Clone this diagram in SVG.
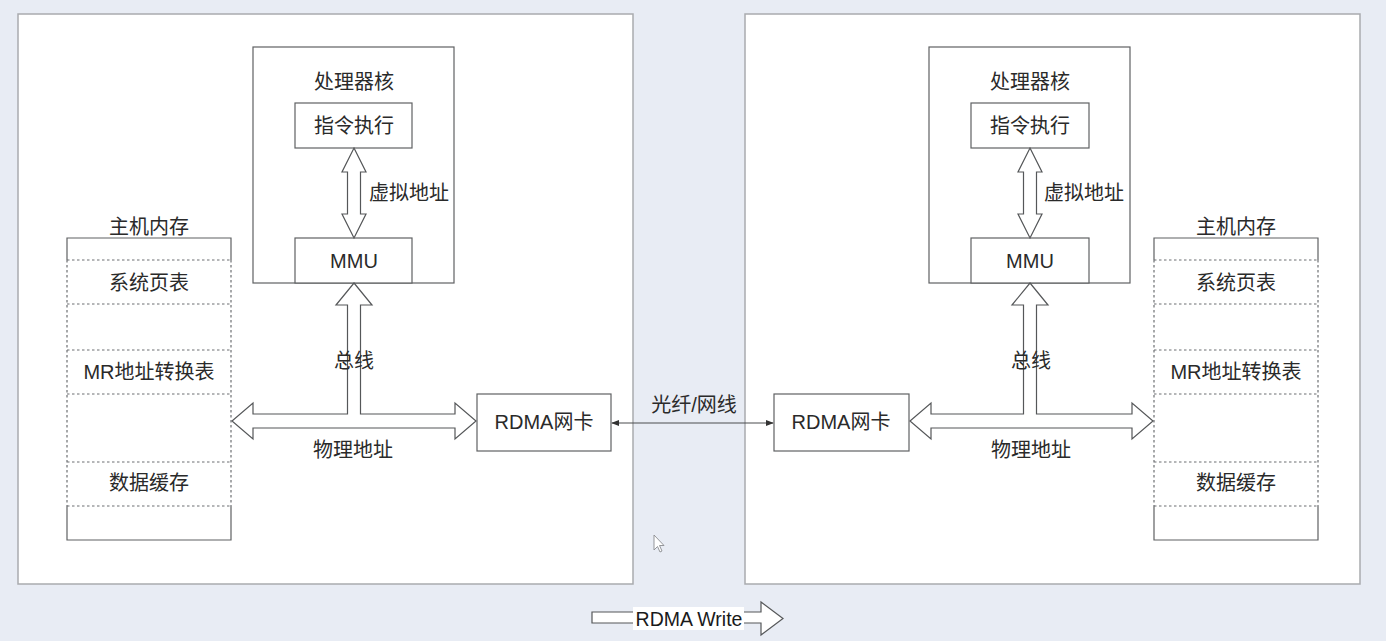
<svg xmlns="http://www.w3.org/2000/svg" width="1386" height="641" viewBox="0 0 1386 641">
  <defs>
    <style>
      .panel { fill: #ffffff; stroke: #a9abae; stroke-width: 1.5; }
      .box { fill: #ffffff; stroke: #5f6163; stroke-width: 1.2; }
      .solid { fill: none; stroke: #5f6163; stroke-width: 1.2; }
      .dash { fill: none; stroke: #6d6f72; stroke-width: 1.2; stroke-dasharray: 2.5 2.5; }
      .hollow { fill: #ffffff; stroke: #555759; stroke-width: 1.2; stroke-linejoin: miter; }
      .wire { fill: none; stroke: #4a4c4e; stroke-width: 1.2; }
      text { font-family: "Liberation Sans", "Noto Sans CJK SC", sans-serif; font-size: 20px; fill: #2a2a2a; text-anchor: middle; dominant-baseline: central; }
      .legend { font-size: 19.5px; fill: #1a1a1a; }
    </style>
    <marker id="tip" viewBox="0 0 10 10" refX="9" refY="5" markerWidth="8" markerHeight="8" orient="auto-start-reverse" markerUnits="userSpaceOnUse">
      <path d="M0,1 L10,5 L0,9 Z" fill="#333"/>
    </marker>
  </defs>

  <rect width="1386" height="641" fill="#e8ecf4"/>

  <!-- host A -->
  <g id="hostA">
    <rect class="panel" x="18" y="14" width="615" height="570"/>
  </g>
  <g id="cpuA">
    <rect class="box" x="253" y="47" width="201" height="236"/>
    <text x="354" y="82">处理器核</text>
  </g>
  <g id="execA">
    <rect class="box" x="295" y="103" width="117" height="45"/>
    <text x="354" y="126">指令执行</text>
  </g>
  <g id="mmuA">
    <rect class="box" x="295" y="238" width="117" height="45"/>
    <text x="354" y="261">MMU</text>
  </g>
  <g id="memA">
    <text x="149" y="227">主机内存</text>
    <rect x="67" y="238" width="164" height="302" fill="#ffffff"/>
    <path class="solid" d="M67,260 V238 H231 V260 M67,506 V540 H231 V506"/>
    <path class="dash" d="M67,260 V506 M231,260 V506 M67,260 H231 M67,304 H231 M67,350 H231 M67,394 H231 M67,462 H231 M67,506 H231"/>
    <text x="149" y="283">系统页表</text>
    <text x="149" y="372">MR地址转换表</text>
    <text x="149" y="483">数据缓存</text>
  </g>
  <g id="nicA">
    <rect class="box" x="477" y="394" width="134" height="57"/>
    <text x="544" y="422">RDMA网卡</text>
  </g>

  <!-- host B -->
  <g id="hostB">
    <rect class="panel" x="745" y="14" width="615" height="570"/>
  </g>
  <g id="cpuB">
    <rect class="box" x="929" y="47" width="201" height="236"/>
    <text x="1030" y="82">处理器核</text>
  </g>
  <g id="execB">
    <rect class="box" x="971" y="103" width="118" height="45"/>
    <text x="1030" y="126">指令执行</text>
  </g>
  <g id="mmuB">
    <rect class="box" x="971" y="238" width="118" height="45"/>
    <text x="1030" y="261">MMU</text>
  </g>
  <g id="memB">
    <text x="1236" y="227">主机内存</text>
    <rect x="1154" y="238" width="164" height="302" fill="#ffffff"/>
    <path class="solid" d="M1154,260 V238 H1318 V260 M1154,506 V540 H1318 V506"/>
    <path class="dash" d="M1154,260 V506 M1318,260 V506 M1154,260 H1318 M1154,304 H1318 M1154,350 H1318 M1154,394 H1318 M1154,462 H1318 M1154,506 H1318"/>
    <text x="1236" y="283">系统页表</text>
    <text x="1236" y="372">MR地址转换表</text>
    <text x="1236" y="483">数据缓存</text>
  </g>
  <g id="nicB">
    <rect class="box" x="774" y="394" width="135" height="57"/>
    <text x="841" y="422">RDMA网卡</text>
  </g>

  <!-- connectors -->
  <g id="connectors">
    <!-- virtual address paths -->
    <polygon class="hollow" points="354,148 366,172 360.5,172 360.5,214 366,214 354,238 342,214 347.5,214 347.5,172 342,172"/>
    <polygon class="hollow" points="1030,148 1042,172 1036.5,172 1036.5,214 1042,214 1030,238 1018,214 1023.5,214 1023.5,172 1018,172"/>
    <!-- system bus / physical address paths -->
    <polygon class="hollow" points="354,283 372,305 360.5,305 360.5,414 455,414 455,403 476,421 455,439 455,428 253,428 253,439 232,421 253,403 253,414 347.5,414 347.5,305 336,305"/>
    <polygon class="hollow" points="1030,283 1048,305 1036.5,305 1036.5,414 1132,414 1132,403 1153,421 1132,439 1132,428 931,428 931,439 910,421 931,403 931,414 1023.5,414 1023.5,305 1012,305"/>
    <!-- link between the two NICs -->
    <line class="wire" x1="612" y1="423" x2="773" y2="423" marker-start="url(#tip)" marker-end="url(#tip)"/>
  </g>

  <!-- connector labels -->
  <text x="409" y="193">虚拟地址</text>
  <text x="1084" y="193">虚拟地址</text>
  <text x="354" y="361">总线</text>
  <text x="1031" y="361">总线</text>
  <text x="353" y="450">物理地址</text>
  <text x="1031" y="450">物理地址</text>
  <text x="694" y="405">光纤/网线</text>

  <!-- legend -->
  <g id="legend">
    <polygon class="hollow" points="592,612 761,612 761,602 783,618.5 761,635 761,623 592,623"/>
    <rect x="633" y="607" width="111" height="23" fill="#ffffff"/>
    <text class="legend" x="689" y="619">RDMA Write</text>
  </g>

  <!-- pointer -->
  <path d="M654,535 L654,550 L657.5,546.5 L660,552 L662,551 L659.5,545.5 L664,545.5 Z" fill="#ffffff" stroke="#8a8c90" stroke-width="0.9" stroke-linejoin="round"/>
</svg>
